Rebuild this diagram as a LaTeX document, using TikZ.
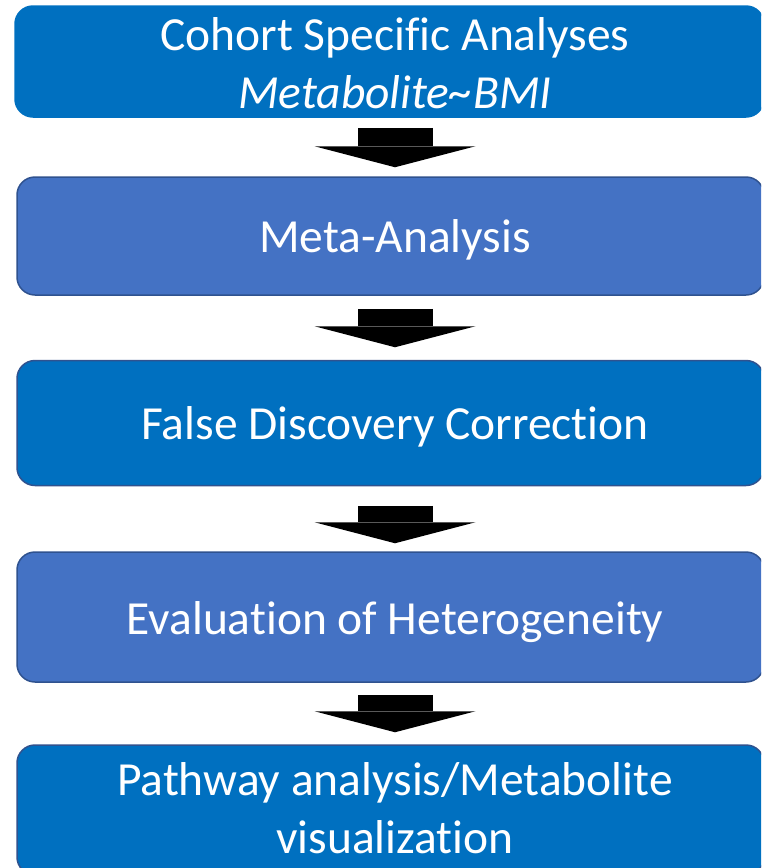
\documentclass[tikz,border=0pt]{standalone}
\usepackage{fontspec}
\setmainfont{Carlito}[Ligatures={NoCommon}]
\usetikzlibrary{arrows.meta,calc}
\definecolor{boxA}{HTML}{0070C0}
\definecolor{boxB}{HTML}{4472C4}
\definecolor{edgeC}{HTML}{2F528F}
\begin{document}
\begin{tikzpicture}[x=1pt,y=-1pt,
  box/.style={rectangle, rounded corners=18pt, minimum width=747pt, inner sep=0pt, draw=edgeC, line width=1.5pt},
  lbl/.style={text=white, font=\fontsize{47.5}{58}\selectfont, align=center, inner sep=0pt},
  blockarrow/.style={draw=black, line width=75pt, -{Triangle[width=161pt 0 0,length=21pt 0 0,line width=0pt]}}]
\useasboundingbox (0,0) rectangle (761,868);
\clip (0,0) rectangle (761,868);
% boxes
\node[box, fill=boxA, draw=boxA, minimum width=749pt, minimum height=111pt] (b1) at (389.5,61.5) {};
\node[box, fill=boxB, minimum height=118pt] (b2) at (390.5,236) {};
\node[box, fill=boxA, minimum height=125pt] (b3) at (390.5,423) {};
\node[box, fill=boxB, minimum height=130pt] (b4) at (390.5,617) {};
\node[box, fill=boxA, minimum height=130pt] (b5) at (390.5,810) {};
% labels
\node[lbl, anchor=base] (t1) at (395,108) {Cohort Specific Analyses\\\itshape Metabolite\textasciitilde BMI};
\node[lbl, anchor=base] (t2) at (395,252) {Meta-Analysis};
\node[lbl, anchor=base] (t3) at (395,439) {False Discovery Correction};
\node[lbl, anchor=base] (t4) at (395,634) {Evaluation of Heterogeneity};
\node[lbl, anchor=base] (t5) at (395,853) {Pathway analysis/Metabolite\\visualization};
% arrows
\draw[blockarrow] ($(b1.south)+(5.5,10)$) -- ($(b2.north)+(4.5,-9)$);
\draw[blockarrow] ($(b2.south)+(4.5,13)$) -- ($(b3.north)+(4.5,-12.5)$);
\draw[blockarrow] ($(b3.south)+(4.5,19.5)$) -- ($(b4.north)+(4.5,-8)$);
\draw[blockarrow] ($(b4.south)+(4.5,12)$) -- ($(b5.north)+(4.5,-12)$);
\end{tikzpicture}
\end{document}
